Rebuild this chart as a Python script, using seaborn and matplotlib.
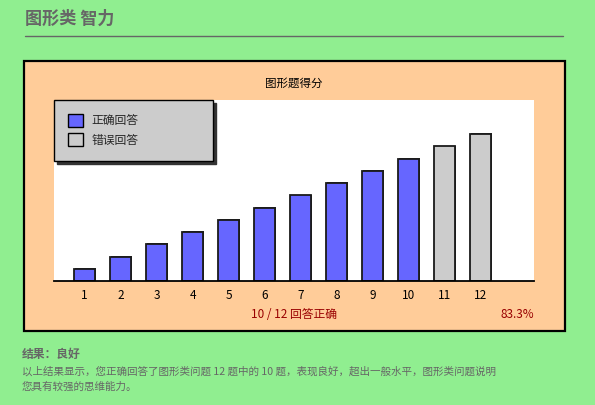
import matplotlib
matplotlib.use("Agg")
import matplotlib.pyplot as plt
import matplotlib.patheffects as pe
from matplotlib.patches import Rectangle, Patch
from matplotlib.lines import Line2D
import seaborn as sns
import pandas as pd

# ---- data ----
questions = ["1", "2", "3", "4", "5", "6", "7", "8", "9", "10", "11", "12"]
scores = [1, 2, 3, 4, 5, 6, 7, 8, 9, 10, 11, 12]
results = ["正确回答"] * 10 + ["错误回答"] * 2
legend_labels = ["正确回答", "错误回答"]
page_title = "图形类 智力"
chart_title = "图形题得分"
summary_head = "结果：良好"
summary_lines = [
    "以上结果显示，您正确回答了图形类问题 12 题中的 10 题，表现良好，超出一般水平，图形类问题说明",
    "您具有较强的思维能力。",
]

n_correct = results.count("正确回答")
n_total = len(results)

sns.set_style("white")
plt.rcParams['font.family'] = ['Noto Sans CJK SC', 'DejaVu Sans']

W, H = 595, 405
fig = plt.figure(figsize=(W / 100, H / 100), dpi=100)
fig.patch.set_facecolor("#90EE90")

def fx(px):
    return px / W

def fy(py):
    return 1 - py / H

# page title + underline
fig.text(fx(25), fy(19), page_title, fontsize=12.3, color="#666666",
         fontweight="bold", ha="left", va="center")
fig.add_artist(Line2D([fx(25), fx(563)], [fy(36), fy(36)], color="#666666",
                      lw=1.0, transform=fig.transFigure))

# chart box
fig.add_artist(Rectangle((fx(24), fy(331)), fx(565) - fx(24), fy(61) - fy(331),
                         transform=fig.transFigure, facecolor="#FFCC99",
                         edgecolor="black", lw=1.6, zorder=0))
fig.text(fx(294), fy(83.5), chart_title, fontsize=8.3, color="black",
         ha="center", va="center")

# plot area
ax = fig.add_axes([fx(54), fy(281), fx(534) - fx(54), fy(100) - fy(281)])
ax.set_facecolor("white")

df = pd.DataFrame({"q": questions, "score": scores, "res": results})
palette = {"正确回答": "#6666FF", "错误回答": "#CCCCCC"}
sns.barplot(data=df, x="q", y="score", hue="res", order=questions,
            hue_order=legend_labels, palette=palette, dodge=False,
            width=0.58, edgecolor="#1a1a1a", linewidth=1.3, saturation=1,
            ax=ax, legend=False)
for p in ax.patches:
    p.set_path_effects([pe.SimplePatchShadow(offset=(0.6, 0.6),
                                             shadow_rgbFace="#333333", alpha=1),
                        pe.Normal()])

ax.set_xlim(-0.847, 12.476)
ax.set_ylim(0, 14.8)
ax.set_xlabel("")
ax.set_ylabel("")
ax.set_yticks([])
for s in ["top", "left", "right"]:
    ax.spines[s].set_visible(False)
ax.spines["bottom"].set_color("black")
ax.spines["bottom"].set_linewidth(1.3)
ax.tick_params(axis="x", length=0, pad=6, labelsize=8.5, labelcolor="black")

handles = [Patch(facecolor=palette[l], edgecolor="black", lw=1.0, label=l)
           for l in legend_labels]
leg = ax.legend(handles=handles, loc="upper left",
                bbox_to_anchor=(0, 1, 159 / 480, 0), mode="expand",
                borderaxespad=0, fancybox=False, frameon=True,
                shadow={"color": "#333333", "alpha": 1},
                fontsize=8.5, handlelength=1.27, handleheight=1.27,
                handletextpad=0.7, labelspacing=0.5, borderpad=1.2)
leg.get_frame().set_facecolor("#CCCCCC")
leg.get_frame().set_edgecolor("black")
leg.get_frame().set_linewidth(1.0)
leg.get_frame().set_alpha(1)

# under-axis texts
fig.text(fx(294), fy(315), f"{n_correct} / {n_total} 回答正确", fontsize=8.5,
         color="#990000", ha="center", va="center")
fig.text(fx(534), fy(315), f"{n_correct / n_total * 100:.1f}%", fontsize=8.5,
         color="#990000", ha="right", va="center")

# summary
fig.text(fx(22), fy(354), summary_head, fontsize=8.5, color="#666666",
         fontweight="bold", ha="left", va="center")
fig.text(fx(22), fy(371.5), summary_lines[0], fontsize=7.6, color="#666666",
         ha="left", va="center")
fig.text(fx(22), fy(387), summary_lines[1], fontsize=7.6, color="#666666",
         ha="left", va="center")

fig.savefig("out.png", dpi=100, facecolor=fig.get_facecolor())
